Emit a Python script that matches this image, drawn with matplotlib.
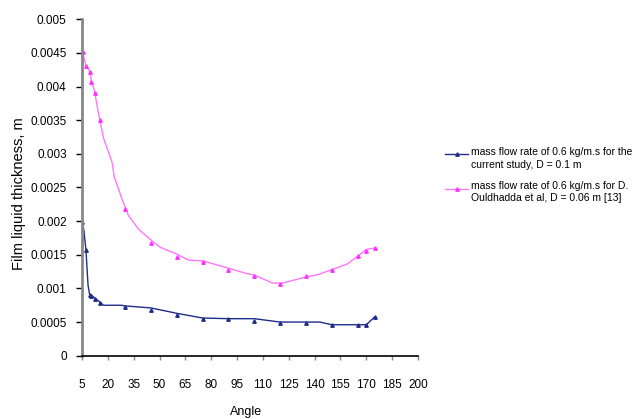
import matplotlib
matplotlib.use("Agg")
import matplotlib.pyplot as plt
from matplotlib.lines import Line2D

# measured points (markers)
blue_angle = [5, 7.3, 9.4, 10.4, 12.3, 15.2, 30, 45, 60, 75, 90, 105, 120, 135, 150, 165, 170, 175]
blue_thick = [0.00198, 0.00157, 0.00090, 0.00089, 0.00085, 0.00078, 0.00072, 0.00068, 0.00061,
              0.00055, 0.00054, 0.00052, 0.00049, 0.00049, 0.00046, 0.00046, 0.00046, 0.00057]

pink_angle = [5.3, 7.3, 9.4, 10.4, 12.3, 15.2, 30, 45, 60, 75, 90, 105, 120, 135, 150, 165, 170, 175]
pink_thick = [0.00451, 0.00431, 0.00421, 0.00407, 0.00391, 0.00350, 0.00218, 0.00168, 0.00147,
              0.00139, 0.00127, 0.00118, 0.00106, 0.00118, 0.00127, 0.00148, 0.00156, 0.00160]

# drawn (smoothed) curves
blue_line_angle = [5, 6, 7.3, 8.5, 9.4, 10.4, 12.3, 15.2, 17.5, 27.8, 30, 45, 60, 75, 90, 105,
                   120, 135, 143, 150, 165, 170, 175]
blue_line_thick = [0.00198, 0.00188, 0.00157, 0.00105, 0.00091, 0.00090, 0.00086, 0.00080, 0.00075,
                   0.00075, 0.00074, 0.00071, 0.00063, 0.00056, 0.00055, 0.00055, 0.00050, 0.00050,
                   0.00050, 0.00046, 0.00046, 0.00046, 0.00058]

pink_line_angle = [5.3, 7.3, 9.4, 10.4, 12.3, 13.5, 15.2, 17.5, 22.4, 23.7, 28.2, 30, 32, 37.8,
                   45, 50.4, 60, 66.8, 75, 90, 100.6, 105, 115.4, 121.4, 135, 142.6, 150, 158.7,
                   165, 170, 175]
pink_line_thick = [0.00451, 0.00431, 0.00423, 0.00409, 0.00393, 0.00375, 0.00352, 0.00323, 0.00288,
                   0.00266, 0.00233, 0.00221, 0.00208, 0.00188, 0.00172, 0.00161, 0.00151, 0.00142,
                   0.00141, 0.00130, 0.00122, 0.00120, 0.00108, 0.00108, 0.00117, 0.00121, 0.00128,
                   0.00136, 0.00148, 0.00158, 0.00160]

blue_label = "mass flow rate of 0.6 kg/m.s for the\ncurrent study, D = 0.1 m"
pink_label = "mass flow rate of 0.6 kg/m.s for D.\nOuldhadda et al, D = 0.06 m [13]"

x_ticks = list(range(5, 201, 15))
y_ticks = [0, 0.0005, 0.001, 0.0015, 0.002, 0.0025, 0.003, 0.0035, 0.004, 0.0045, 0.005]

BLUE = "#1f2d8a"
PINK = "#ff77ff"
PINK_MK = "#ff33ff"

plt.rcParams["font.family"] = ["Liberation Sans", "DejaVu Sans"]

W, H = 643, 419
fig = plt.figure(figsize=(W / 100, H / 100), dpi=100)
ax = fig.add_axes([82 / W, 1 - 355.7 / H, 336 / W, 336.4 / H])

ax.plot(blue_line_angle, blue_line_thick, color=BLUE, lw=1.0)
ax.plot(blue_angle, blue_thick, ls="none", marker="^", ms=2.5, color=BLUE)
ax.plot(pink_line_angle, pink_line_thick, color=PINK, lw=1.0)
ax.plot(pink_angle, pink_thick, ls="none", marker="^", ms=2.5, color=PINK_MK)

ax.set_xlim(5, 200)
ax.set_ylim(0, 0.005)
ax.set_xticks(x_ticks)
ax.set_yticks(y_ticks)
ax.set_yticklabels(["%g" % v for v in y_ticks])
ax.tick_params(labelsize=8.5, length=4, width=1, color="black")
ax.tick_params(axis="y", pad=7)
ax.tick_params(axis="x", pad=14, length=3, color="#888888")

for s in ["top", "right"]:
    ax.spines[s].set_visible(False)
ax.spines["left"].set_color("#888888")
ax.spines["left"].set_linewidth(2)
ax.spines["bottom"].set_color("black")
ax.spines["bottom"].set_linewidth(1.2)

ax.set_xlabel("Angle", fontsize=9)
ax.xaxis.set_label_coords((246 - 82) / 336, -(412 - 355.7) / 336.4)
ax.xaxis.label.set_va("center")
ax.set_ylabel("Film liquid thickness, m", fontsize=10.5)
ax.yaxis.set_label_coords(-(82 - 19) / 336, (355.7 - 193.5) / 336.4)
ax.yaxis.label.set_va("center")

# legend drawn by hand so the key lines up with the first text line
entries = [(blue_label, BLUE, BLUE, 154, 158.5), (pink_label, PINK, PINK_MK, 189, 192)]
for label, lc, mc, yh, yt in entries:
    fig.add_artist(Line2D([445 / W, 468 / W], [1 - yh / H, 1 - yh / H], color=lc, lw=1.0,
                          transform=fig.transFigure))
    fig.add_artist(Line2D([457 / W], [1 - yh / H], color=mc, marker="^", ms=2.5, ls="none",
                          transform=fig.transFigure))
    fig.text(471 / W, 1 - yt / H, label, fontsize=7.5, va="center", ha="left",
             linespacing=1.3)

fig.savefig("out.png", dpi=100)
